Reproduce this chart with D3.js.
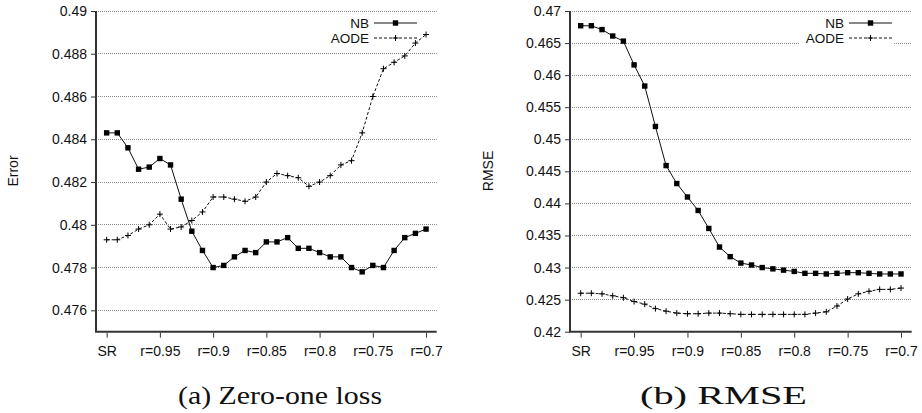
<!DOCTYPE html>
<html>
<head>
<meta charset="utf-8">
<script src="https://cdn.jsdelivr.net/npm/d3@7"></script>
<style>
body{margin:0;background:#fff}
svg{display:block}
</style>
</head>
<body>
<script>
const w=922;
const h=413;

// x positions: SR then r=0.99 ... r=0.70
const xLabels=["SR","r=0.95","r=0.9","r=0.85","r=0.8","r=0.75","r=0.7"];
const xLabelIdx=[0,5,10,15,20,25,30];

const nbError=[0.4843,0.4843,0.4836,0.4826,0.4827,0.4831,0.4828,0.4812,0.4797,0.4788,
  0.4780,0.4781,0.4785,0.4788,0.4787,0.4792,0.4792,0.4794,0.4789,0.4789,
  0.4787,0.4785,0.4785,0.4780,0.4778,0.4781,0.4780,0.4788,0.4794,0.4796,0.4798];
const aodeError=[0.4793,0.4793,0.4795,0.4798,0.4800,0.4805,0.4798,0.4799,0.4802,0.4806,
  0.4813,0.4813,0.4812,0.4811,0.4813,0.4820,0.4824,0.4823,0.4822,0.4818,
  0.4820,0.4823,0.4828,0.4830,0.4843,0.4860,0.4873,0.4876,0.4879,0.4885,0.4889];

const nbRmse=[0.4677,0.4677,0.4671,0.4661,0.4653,0.4616,0.4583,0.4520,0.4459,0.4431,
  0.4410,0.4389,0.4361,0.4332,0.4317,0.4307,0.4304,0.4300,0.4298,0.4296,
  0.4294,0.4291,0.4291,0.4290,0.4291,0.4292,0.4292,0.4291,0.4290,0.4290,0.4290];
const aodeRmse=[0.4260,0.4260,0.4259,0.4256,0.4253,0.4247,0.4243,0.4236,0.4232,0.4229,
  0.4228,0.4228,0.4229,0.4229,0.4228,0.4227,0.4227,0.4227,0.4227,0.4227,
  0.4227,0.4227,0.4229,0.4231,0.4240,0.4251,0.4259,0.4263,0.4266,0.4266,0.4268];

const errTicks=[0.476,0.478,0.48,0.482,0.484,0.486,0.488,0.49];
const rmseTicks=[0.42,0.425,0.43,0.435,0.44,0.445,0.45,0.455,0.46,0.465,0.47];

const seriesNames=["NB","AODE"];

let svg=d3.select("body").append("svg")
  .attr("width",w)
  .attr("height",h);

function panel(opt){
  let g=svg.append("g");
  let x=d3.scaleLinear().domain([-1,31]).range([opt.x0,opt.x1]);
  let y=d3.scaleLinear().domain(opt.yDomain).range([331.7,11]);

  // grid
  g.selectAll(".grid").data(opt.ticks).enter().append("line")
    .attr("x1",opt.x0).attr("x2",opt.x1)
    .attr("y1",d=>y(d)).attr("y2",d=>y(d))
    .attr("stroke","#8a8a8a").attr("stroke-width",1)
    .attr("stroke-dasharray","1,1")
    .attr("shape-rendering","crispEdges");

  // y axis
  let ya=g.append("g").attr("transform","translate("+opt.x0+",0)")
    .call(d3.axisLeft(y).tickValues(opt.ticks).tickSize(5).tickSizeOuter(0)
      .tickFormat(d=>String(+d.toFixed(3))));
  ya.select(".domain").attr("stroke","#333").attr("stroke-width",2)
    .attr("d","M0,"+y(opt.yDomain[1])+"V"+y(opt.yDomain[0]));
  ya.selectAll(".tick line").attr("stroke","#333");
  ya.selectAll(".tick text").attr("font-family","'Liberation Sans',Arial,sans-serif")
    .attr("font-size",14).attr("fill","#111").attr("x",-9);

  // x axis
  let xa=g.append("g").attr("transform","translate(0,331.7)")
    .call(d3.axisBottom(x).tickValues(xLabelIdx).tickSize(5).tickSizeOuter(0)
      .tickFormat((d,i)=>xLabels[i]));
  xa.select(".domain").attr("stroke","#333").attr("stroke-width",2)
    .attr("d","M"+(opt.x0-1)+",0H"+opt.x1);
  xa.selectAll(".tick line").attr("stroke","#333").attr("y1",1).attr("y2",6);
  xa.selectAll(".tick text").attr("font-family","'Liberation Sans',Arial,sans-serif")
    .attr("font-size",14).attr("fill","#111").attr("y",14);

  // axis title
  g.append("text")
    .attr("transform","translate("+opt.titleX+",171) rotate(-90)")
    .attr("text-anchor","middle")
    .attr("font-family","'Liberation Sans',Arial,sans-serif")
    .attr("font-size",14).attr("fill","#111")
    .text(opt.title);

  // legend box
  let lx=opt.legendX;
  g.append("rect").attr("x",lx-45).attr("y",13).attr("width",94).attr("height",33).attr("fill","#fff");
  seriesNames.forEach((s,i)=>{
    let ly=23+i*15;
    g.append("text").attr("x",lx).attr("y",ly).attr("dy","0.36em")
      .attr("text-anchor","end")
      .attr("font-family","'Liberation Sans',Arial,sans-serif")
      .attr("font-size",13.5).attr("fill","#111").text(s);
    g.append("line").attr("x1",lx+5).attr("x2",lx+48).attr("y1",ly).attr("y2",ly)
      .attr("stroke","#111").attr("stroke-width",1)
      .attr("stroke-dasharray",i==0?null:"3,2");
    if(i==0){
      g.append("rect").attr("x",lx+26.5-2.7).attr("y",ly-2.7).attr("width",5.4).attr("height",5.4).attr("fill","#000");
    }else{
      g.append("path").attr("d","M"+(lx+26.5-3)+","+ly+"h6M"+(lx+26.5)+","+(ly-3)+"v6")
        .attr("stroke","#000").attr("stroke-width",1);
    }
  });

  let line=d3.line().x((d,i)=>x(i)).y(d=>y(d));

  // AODE dashed with plus markers
  g.append("path").datum(opt.aode).attr("d",line)
    .attr("fill","none").attr("stroke","#111").attr("stroke-width",1)
    .attr("stroke-dasharray","3,2");
  g.selectAll(".plus").data(opt.aode).enter().append("path")
    .attr("d",(d,i)=>"M"+(x(i)-3)+","+y(d)+"h6M"+x(i)+","+(y(d)-3)+"v6")
    .attr("stroke","#000").attr("stroke-width",1);

  // NB solid with square markers
  g.append("path").datum(opt.nb).attr("d",line)
    .attr("fill","none").attr("stroke","#111").attr("stroke-width",1);
  g.selectAll(".sq").data(opt.nb).enter().append("rect")
    .attr("x",(d,i)=>x(i)-2.7).attr("y",d=>y(d)-2.7)
    .attr("width",5.4).attr("height",5.4).attr("fill","#000");

  // caption
  g.append("text")
    .attr("x",opt.capX).attr("y",404)
    .attr("text-anchor","middle")
    .attr("font-family","'Liberation Serif','Times New Roman',serif")
    .attr("font-size",25).attr("fill","#111")
    .attr("textLength",opt.capLen).attr("lengthAdjust","spacingAndGlyphs")
    .text(opt.caption);
}

panel({x0:96,x1:436.7,yDomain:[0.475,0.49],ticks:errTicks,nb:nbError,aode:aodeError,
  title:"Error",titleX:18,legendX:369,caption:"(a) Zero-one loss",capX:280,capLen:204});
panel({x0:570,x1:911.7,yDomain:[0.42,0.47],ticks:rmseTicks,nb:nbRmse,aode:aodeRmse,
  title:"RMSE",titleX:493,legendX:844,caption:"(b) RMSE",capX:723.5,capLen:167});
</script>
</body>
</html>
